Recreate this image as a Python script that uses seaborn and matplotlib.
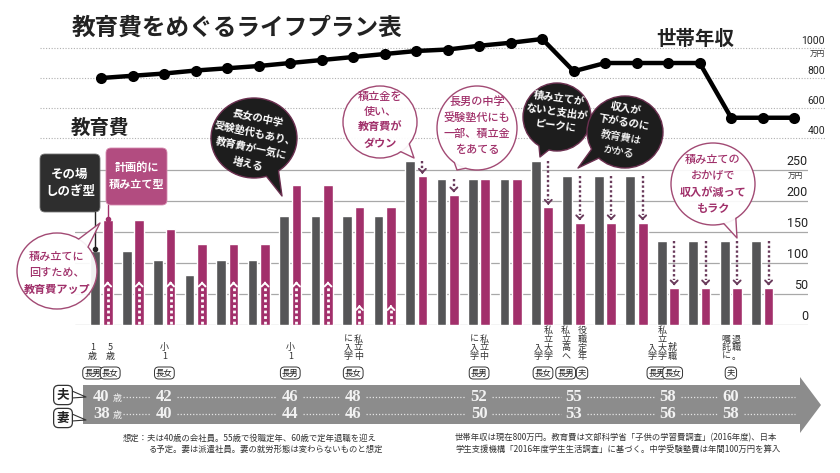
import numpy as np
import pandas as pd
import seaborn as sns
import matplotlib.pyplot as plt
from matplotlib.patches import Ellipse, Polygon, FancyBboxPatch

# ── values ──────────────────────────────────────────────────────────
groups = list(range(22))  # husband 40..61
cost_adhoc = [120, 120, 105, 80, 105, 105, 175, 175, 175, 175, 265,
              235, 235, 235, 265, 240, 240, 240, 135, 135, 135, 135]
cost_plan = [170, 170, 155, 130, 130, 130, 225, 225, 190, 190, 240,
             210, 235, 235, 190, 165, 165, 165, 60, 60, 60, 60]
up_arrow = [70, 70, 70, 70, 70, 70, 70, 70, 32, 32]
income_x = list(range(23))
income = [800, 815, 830, 850, 865, 880, 900, 920, 940, 960, 980, 990,
          1015, 1035, 1060, 845, 900, 900, 900, 900, 535, 535, 535]
bar_ticks = [0, 50, 100, 150, 200, 250]
income_ticks = [400, 600, 800, 1000]
husband_age = [40, 42, 46, 48, 52, 55, 58, 60]
wife_age = [38, 40, 44, 46, 50, 53, 56, 58]
event_pos = [-0.28, 0.28, 2, 6, 8, 12, 14.03, 14.75, 15.27, 17.65, 18.15, 20]
event_text = ["1歳", "5歳", "小1", "小1", "私立中|に入学", "私立中|に入学",
              "私立大学|入学", "私立高へ", "役職定年", "私立大学|入学", "就職", "退職。|嘱託に"]
event_who = ["長男", "長女", "長女", "長男", "長女", "長男",
             "長女", "長男", "夫", "長男", "長女", "夫"]

GRAY = "#555557"
PINK = "#a2306b"
PTXT = "#a0306a"
DARK = "#1d1d1d"

sns.set_style("white")
plt.rcParams['font.family'] = ['Noto Sans CJK JP', 'DejaVu Sans']

W, H = 840, 473
fig = plt.figure(figsize=(W / 100, H / 100), dpi=100)


def box(l, t, r, b):
    return [l / W, 1 - b / H, (r - l) / W, (b - t) / H]


ax_inc = fig.add_axes(box(40, 20, 825, 150))
ax_bar = fig.add_axes(box(75, 139, 808, 325))
ov = fig.add_axes([0, 0, 1, 1], zorder=5)
ov.set_xlim(0, W)
ov.set_ylim(H, 0)

# ── income line ────────────────────────────────────────────────────
sns.lineplot(x=income_x, y=income, ax=ax_inc, color="black", lw=3.2,
             marker="o", markersize=8, markeredgewidth=0, zorder=3)
ax_inc.set_xlim(-1.95, 22.98)
ax_inc.set_ylim(320, 1186.7)
for t in income_ticks:
    ax_inc.axhline(t, color="#b0b0b0", lw=0.8, ls=(0, (1, 1.5)), zorder=1)
    ax_inc.annotate(str(t), xy=(22.98, t), xytext=(0, 1.5), textcoords="offset points",
                    ha="right", va="bottom", fontsize=7.5, fontfamily="Roboto", color="#222")
ax_inc.annotate("万円", xy=(22.98, 1000), xytext=(0, -2), textcoords="offset points",
                ha="right", va="top", fontsize=5.5, color="#333")
ax_inc.axis("off")

# ── education cost bars ────────────────────────────────────────────
df = pd.DataFrame({
    "group": groups * 2,
    "cost": cost_adhoc + cost_plan,
    "type": ["その場しのぎ型"] * len(groups) + ["計画的に積み立て型"] * len(groups),
})
sns.barplot(data=df, x="group", y="cost", hue="type",
            hue_order=["その場しのぎ型", "計画的に積み立て型"], palette=[GRAY, PINK],
            width=0.79, gap=0.22, saturation=1, errorbar=None, legend=False,
            ax=ax_bar, zorder=2)
ax_bar.set_xlim(-0.84, 22.45)
ax_bar.set_ylim(0, 300)
for t in bar_ticks:
    ax_bar.axhline(t, color="#a8a8a8", lw=0.9, zorder=1)
    ax_bar.annotate(str(t), xy=(22.45, t), xytext=(0, 1.5), textcoords="offset points",
                    ha="right", va="bottom", fontsize=9, fontfamily="Roboto", color="#222")
ax_bar.annotate("万円", xy=(22.3, 250), xytext=(0, -2), textcoords="offset points",
                ha="right", va="top", fontsize=5.5, color="#333")

off = 0.79 / 4
for i, (g, p) in enumerate(zip(cost_adhoc, cost_plan)):
    x = i + off
    if p > g:
        h = up_arrow[i]
        ax_bar.plot([x, x], [2, h - 8], color="white", lw=2, ls=(0, (1, 1)), zorder=3)
        ax_bar.annotate("", xy=(x, h), xytext=(x, h - 8),
                        arrowprops=dict(arrowstyle="->,head_width=0.25,head_length=0.25",
                                        color="white", lw=1.4), zorder=3)
    elif g > p:
        ax_bar.plot([x, x], [g, p + 12], color="#6a3c5c", lw=1.7, ls=(0, (1, 1)), zorder=3)
        ax_bar.annotate("", xy=(x, p + 4), xytext=(x, p + 12),
                        arrowprops=dict(arrowstyle="->,head_width=0.25,head_length=0.25",
                                        color="#6a3c5c", lw=1.4), zorder=3)
ax_bar.axis("off")


def bar_px(x, y):
    return ov.transData.inverted().transform(ax_bar.transData.transform((x, y)))


# ── headings ───────────────────────────────────────────────────────
ov.text(237, 28, "教育費をめぐるライフプラン表", fontsize=17, fontweight="bold",
        ha="center", va="center", color="#222")
ov.text(695, 39, "世帯年収", fontsize=14, fontweight="bold", ha="center", va="center", color="#222")
ov.text(100, 128, "教育費", fontsize=14, fontweight="bold", ha="center", va="center", color="#222")

# legend boxes + connectors
ov.add_patch(FancyBboxPatch((40, 154), 60, 58, boxstyle="round,pad=0,rounding_size=5",
                            fc="#2e2e2e", ec="#777", lw=0.6, zorder=3))
ov.text(70, 183, "その場\nしのぎ型", fontsize=9, fontweight="bold", color="white",
        ha="center", va="center", linespacing=1.35, zorder=3.1)
ov.add_patch(FancyBboxPatch((106, 148), 61, 57, boxstyle="round,pad=0,rounding_size=5",
                            fc="#b24c80", ec="#d58aae", lw=0.6, zorder=3))
ov.text(136.5, 176, "計画的に\n積み立て型", fontsize=8, fontweight="bold", color="white",
        ha="center", va="center", linespacing=1.35, zorder=3.1)
gx, gy = bar_px(-off, cost_adhoc[0])
px_, py_ = bar_px(off, cost_plan[0])
ov.plot([gx, gx], [212, gy - 2], color="#222", lw=1, zorder=3)
ov.plot(gx, gy - 2, "o", color="#222", ms=3, zorder=3)
ov.plot([px_, px_], [205, py_ - 1], color=PINK, lw=1, zorder=3)
ov.plot(px_, py_ - 1, "o", color=PINK, ms=3, zorder=3)


# ── speech bubbles ─────────────────────────────────────────────────
def bubble(c, r, tip, fc, ec, z, spread=9):
    cx, cy = c
    rx, ry = r
    ang = np.arctan2(tip[1] - cy, tip[0] - cx)
    d = np.radians(spread)
    e1 = (cx + rx * np.cos(ang - d), cy + ry * np.sin(ang - d))
    e2 = (cx + rx * np.cos(ang + d), cy + ry * np.sin(ang + d))
    i1 = (cx + 0.85 * rx * np.cos(ang - d), cy + 0.85 * ry * np.sin(ang - d))
    i2 = (cx + 0.85 * rx * np.cos(ang + d), cy + 0.85 * ry * np.sin(ang + d))
    ov.add_patch(Ellipse(c, 2 * rx, 2 * ry, fc=fc, ec=ec, lw=1, zorder=z))
    ov.add_patch(Polygon([i1, e1, tip, e2, i2], fc=fc, ec="none", zorder=z + 0.1))
    ov.plot([e1[0], tip[0], e2[0]], [e1[1], tip[1], e2[1]], color=ec, lw=1, zorder=z + 0.2)


def btext(c, lines, weights, color, size, step, z, rot=0):
    r = np.radians(rot)
    n = len(lines)
    for k, (t, w) in enumerate(zip(lines, weights)):
        o = (k - (n - 1) / 2) * step
        ov.text(c[0] + o * np.sin(r), c[1] + o * np.cos(r), t, ha="center", va="center",
                rotation=rot, rotation_mode="anchor", fontsize=size, fontweight=w,
                color=color, zorder=z + 0.3)


WHITE = (1, 1, 1, 0.92)
WEDGE = "#a24a74"

bubble((57, 271), (40, 38), (100, 223), WHITE, WEDGE, 4)
btext((57, 273), ["積み立てに", "回すため、", "教育費アップ"], ["medium", "medium", "bold"],
      PTXT, 8, 16.5, 4)

bubble((254, 138), (43, 40), (282, 196), DARK, "#6b3050", 4.5)
btext((253, 141), ["長女の中学", "受験塾代もあり、", "教育費が一気に", "増える"],
      ["bold"] * 4, "white", 7.5, 15.5, 4.5, rot=-12)

bubble((380, 122), (37, 36), (414, 158), WHITE, WEDGE, 5)
btext((380, 120), ["積立金を", "使い、", "教育費が", "ダウン"],
      ["medium", "medium", "bold", "bold"], PTXT, 8, 15.5, 5)

bubble((477, 128), (40, 42), (457, 170), WHITE, WEDGE, 5.5)
btext((477, 126), ["長男の中学", "受験塾代にも", "一部、積立金", "をあてる"],
      ["medium"] * 4, PTXT, 8, 16, 5.5)

bubble((557, 117), (34, 34), (540, 157), DARK, "#6b3050", 6)
btext((557, 112), ["積み立てが", "ないと支出が", "ピークに"], ["bold"] * 3,
      "white", 7.5, 14, 6, rot=-8)

bubble((625, 132), (38, 36), (578, 168), DARK, "#6b3050", 6.5)
btext((622, 130), ["収入が", "下がるのに", "教育費は", "かかる"],
      ["bold", "bold", "medium", "medium"], "white", 7.5, 14.7, 6.5, rot=-10)

bubble((713, 184), (42, 41), (737, 238), WHITE, WEDGE, 7)
btext((713, 184), ["積み立ての", "おかげで", "収入が減って", "もラク"],
      ["medium", "medium", "bold", "bold"], PTXT, 8, 16, 7)

# ── life events ────────────────────────────────────────────────────
for pos, txt, who in zip(event_pos, event_text, event_who):
    x, _ = bar_px(pos, 0)
    cols = txt.split("|")
    n = len(cols)
    for k, col in enumerate(cols):
        cx = x + ((n - 1) / 2 - k) * 10
        ov.text(cx, 361, "\n".join(col), ha="center", va="bottom", fontsize=6.5,
                linespacing=0.95, color="#333")
    ov.text(x, 373, who, ha="center", va="center", fontsize=6, color="#222",
            bbox=dict(boxstyle="round,pad=0.18,rounding_size=0.5", fc="white", ec="#333", lw=0.7))

# age band
ov.add_patch(Polygon([(83, 385), (800, 385), (800, 377), (821, 405), (800, 433),
                      (800, 424), (83, 424)], closed=True, fc="#8c8c8c", ec="none"))
xs = [bar_px(a - 40, 0)[0] for a in husband_age]
for y, row in ((397, husband_age), (414, wife_age)):
    for k, (x, a) in enumerate(zip(xs, row)):
        ov.text(x, y, str(a), fontfamily="Liberation Serif", fontweight="bold", fontsize=12,
                color="#f2f2f2", ha="center", va="center")
        start = x + (22 if k == 0 else 13)
        end = xs[k + 1] - 13 if k + 1 < len(xs) else 795
        ov.plot([start, end], [y, y], color="#e4e4e4", lw=0.9, ls=(0, (1, 1.5)))
    ov.text(xs[0] + 11, y + 1, "歳", fontsize=6.5, color="#f2f2f2", ha="left", va="center")

for y, who in ((395, "夫"), (418, "妻")):
    ov.text(63, y, who, fontsize=9, fontweight="bold", color="#222", ha="center", va="center",
            bbox=dict(boxstyle="round,pad=0.25,rounding_size=0.4", fc="white", ec="#333", lw=0.9))
    ov.plot([72, 86, 72], [y - 4, y + 2, y + 3], color="#333", lw=0.8)

# footnotes
note = dict(fontsize=6, color="#333", va="center", ha="left")
ov.text(123, 438, "想定：夫は40歳の会社員。55歳で役職定年、60歳で定年退職を迎え", **note)
ov.text(148, 449, "る予定。妻は派遣社員。妻の就労形態は変わらないものと想定", **note)
ov.text(455, 438, "世帯年収は現在800万円。教育費は文部科学省「子供の学習費調査」(2016年度)、日本", **note)
ov.text(455, 449, "学生支援機構「2016年度学生生活調査」に基づく。中学受験塾費は年間100万円を算入", **note)

ov.axis("off")
fig.savefig("out.png", dpi=100, facecolor="white")
